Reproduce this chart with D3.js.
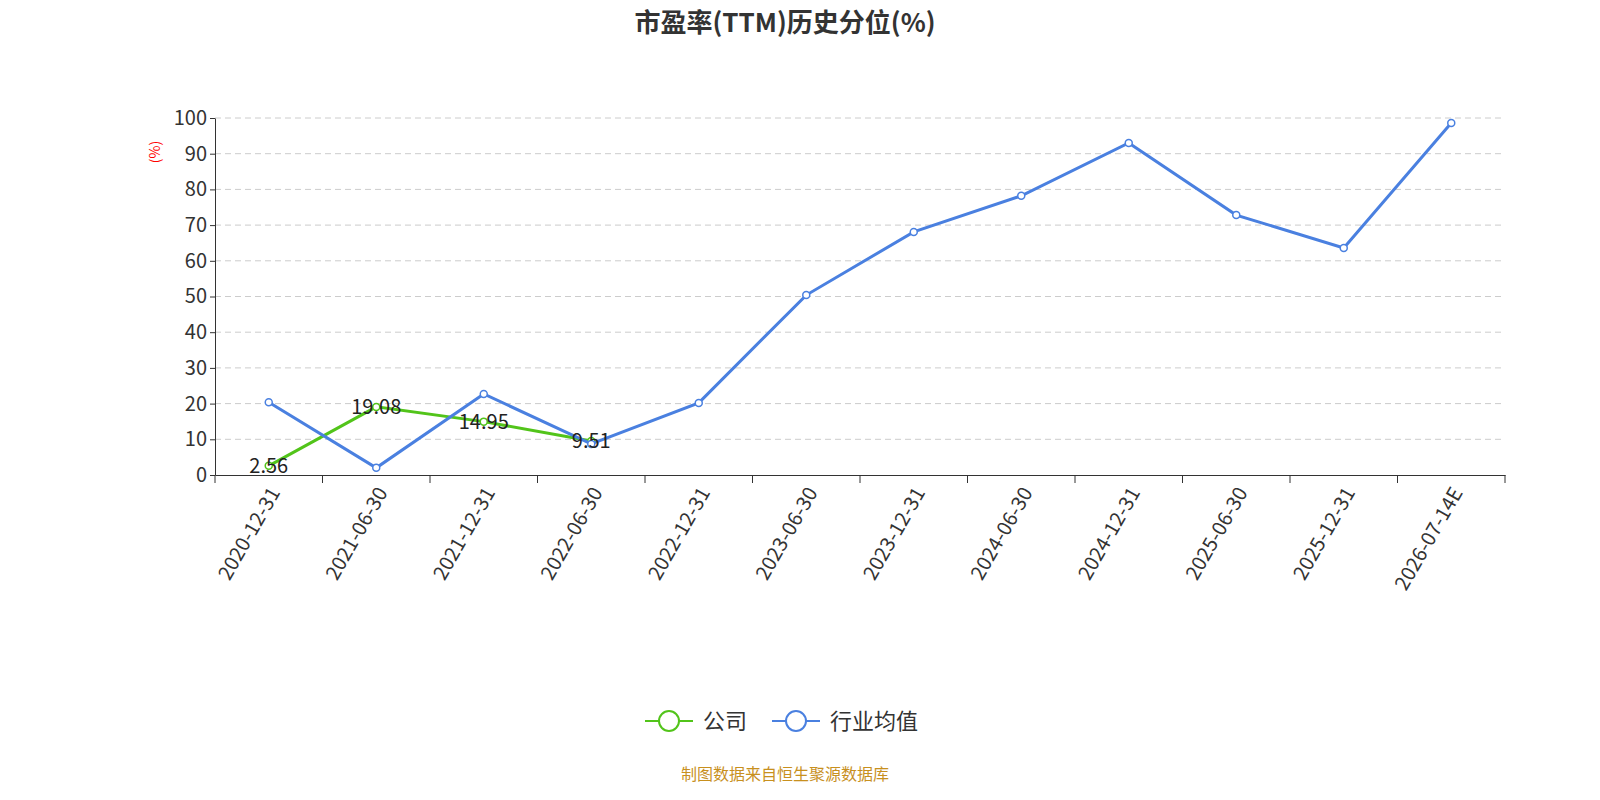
<!DOCTYPE html>
<html><head><meta charset="utf-8">
<script src="https://cdn.jsdelivr.net/npm/d3@7"></script>
<style>body{margin:0;background:#fff}text{font-family:"Noto Sans CJK SC","Noto Sans",sans-serif}</style>
</head><body>
<svg id="chart" width="1600" height="800"></svg>
<script>
const categories = ["2020-12-31","2021-06-30","2021-12-31","2022-06-30","2022-12-31","2023-06-30","2023-12-31","2024-06-30","2024-12-31","2025-06-30","2025-12-31","2026-07-14E"];
const companyValues = [2.56, 19.08, 14.95, 9.51];
const industryValues = [20.4, 2.0, 22.7, 8.7, 20.2, 50.4, 68.1, 78.2, 93.0, 72.8, 63.6, 98.6];
const yTicks = [0,10,20,30,40,50,60,70,80,90,100];

(function () {
const svg = d3.select("#chart");
const padL = 215, padR = 1505, padT = 118, padB = 475;

svg.append("text").attr("x", 785).attr("y", 32).attr("text-anchor", "middle")
  .style("font-size", "26px").style("font-weight", "bold").attr("fill", "#333")
  .text("市盈率(TTM)历史分位(%)");

const x = d3.scaleBand().domain(categories).range([padL, padR]);
const y = d3.scaleLinear().domain([0, 100]).range([padB, padT]);
const cx = d => x(d) + x.bandwidth() / 2;

// grid
svg.append("g").selectAll("line").data(yTicks.filter(t => t > 0)).enter().append("line")
  .attr("x1", padL).attr("x2", padR).attr("y1", d => y(d)).attr("y2", d => y(d))
  .attr("stroke", "#ccc").attr("stroke-dasharray", "6,4");

// y axis
const ya = svg.append("g").attr("transform", `translate(${padL},0)`)
  .call(d3.axisLeft(y).tickValues(yTicks).tickSize(5).tickSizeOuter(0));
ya.select(".domain").attr("stroke", "#333");
ya.selectAll("line").attr("stroke", "#333");
ya.selectAll("text").style("font-size", "20px").attr("fill", "#333").attr("font-family", "Noto Sans");

svg.append("text").attr("transform", "translate(160,152) rotate(-90)").attr("text-anchor", "middle")
  .attr("fill", "red").style("font-size", "14px").text("(%)");

// x axis
const xa = svg.append("g").attr("transform", `translate(0,${padB})`)
  .call(d3.axisBottom(x).tickSize(0).tickSizeOuter(0));
xa.select(".domain").attr("stroke", "#333");
xa.selectAll(".tick").remove();
svg.append("g").selectAll("line").data(d3.range(categories.length + 1)).enter().append("line")
  .attr("x1", i => padL + i * x.bandwidth()).attr("x2", i => padL + i * x.bandwidth())
  .attr("y1", padB).attr("y2", padB + 8).attr("stroke", "#333");
svg.append("g").selectAll("text").data(categories).enter().append("text")
  .attr("transform", d => `translate(${cx(d) + 6},${padB + 14}) rotate(-60)`)
  .attr("text-anchor", "end").attr("dy", "0.35em")
  .style("font-size", "20px").attr("fill", "#333").attr("font-family", "Noto Sans").text(d => d);

const line = d3.line().x(d => cx(d[0])).y(d => y(d[1]));
function drawSeries(vals, color) {
  const pts = vals.map((v, i) => [categories[i], v]);
  svg.append("path").attr("d", line(pts)).attr("fill", "none").attr("stroke", color).attr("stroke-width", 3);
  svg.append("g").selectAll("circle").data(pts).enter().append("circle")
    .attr("cx", d => cx(d[0])).attr("cy", d => y(d[1])).attr("r", 3.5)
    .attr("fill", "#fff").attr("stroke", color).attr("stroke-width", 1.5);
  return pts;
}
const cp = drawSeries(companyValues, "#52c41a");
drawSeries(industryValues, "#4a80e0");
svg.append("g").selectAll("text").data(cp).enter().append("text")
  .attr("x", d => cx(d[0])).attr("y", d => y(d[1]) + 7).attr("text-anchor", "middle")
  .style("font-size", "20px").attr("fill", "#222").attr("font-family", "Noto Sans").text(d => d[1].toFixed(2));

// legend
const legend = [["公司", "#52c41a", 645], ["行业均值", "#4a80e0", 772]];
legend.forEach(([name, color, lx]) => {
  const g = svg.append("g");
  g.append("line").attr("x1", lx).attr("x2", lx + 48).attr("y1", 721).attr("y2", 721).attr("stroke", color).attr("stroke-width", 2);
  g.append("circle").attr("cx", lx + 24).attr("cy", 721).attr("r", 10).attr("fill", "#fff").attr("stroke", color).attr("stroke-width", 2);
  g.append("text").attr("x", lx + 58).attr("y", 729).style("font-size", "22px").attr("fill", "#333").text(name);
});

svg.append("text").attr("x", 785).attr("y", 780).attr("text-anchor", "middle")
  .style("font-size", "16px").attr("fill", "#c8901e").text("制图数据来自恒生聚源数据库");
})();
</script>
</body></html>
